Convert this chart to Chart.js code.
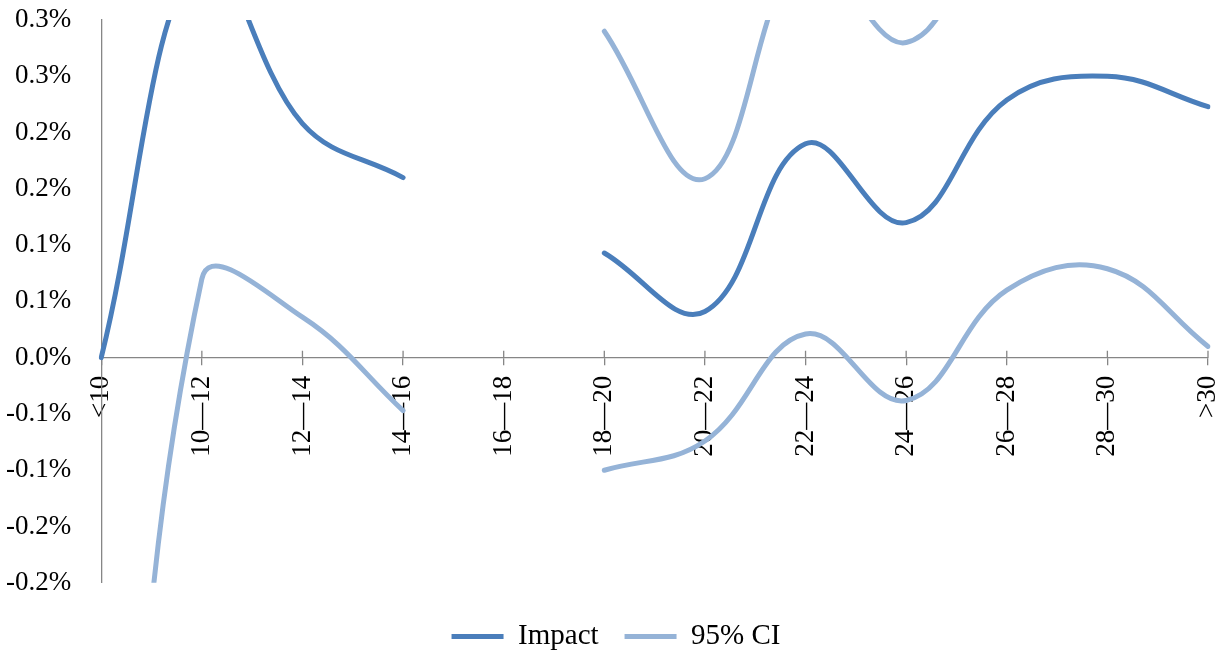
<!DOCTYPE html>
<html>
<head>
<meta charset="utf-8">
<script src="https://cdn.jsdelivr.net/npm/chart.js@4"></script>
<style>
  html, body { margin: 0; padding: 0; background: #fff; }
  #wrap { width: 1225px; height: 656px; }
</style>
</head>
<body>
<div id="wrap"><canvas id="myChart"></canvas></div>
<script>
const categories = ['<10', '10—12', '12—14', '14—16', '16—18', '18—20', '20—22', '22—24', '24—26', '26—28', '28—30', '>30'];

// values in percent (0.25 means 0.25%)
const impact  = [0.000, 0.360, 0.208, 0.160, null, 0.093, 0.041, 0.190, 0.120, 0.229, 0.250, 0.223];
const ciUpper = [0.800, 0.650, 0.380, 0.360, null, 0.290, 0.159, 0.360, 0.280, 0.400, 0.420, 0.440];
const ciLower = [-0.800, 0.070, 0.036, -0.047, null, -0.100, -0.074, 0.021, -0.038, 0.060, 0.079, 0.010];

const yTickLabels = ['-0.2%', '-0.2%', '-0.1%', '-0.1%', '0.0%', '0.1%', '0.1%', '0.2%', '0.2%', '0.3%', '0.3%'];

const impactColor = '#4a7ebb';
const ciColor = '#95b3d7';
const axisColor = '#868686';
const fontFamily = "'Liberation Serif', 'Times New Roman', serif";
const font = { family: fontFamily, size: 27 };

// tick marks on the x axis cross the line, chart.js only draws the lower half
const crossTicks = {
    id: 'crossTicks',
    afterDraw(chart) {
        const x = chart.scales.x;
        const y0 = chart.scales.y.getPixelForValue(0);
        const ctx = chart.ctx;
        ctx.save();
        ctx.strokeStyle = axisColor;
        ctx.lineWidth = 1.3;
        ctx.beginPath();
        for (let i = 1; i < categories.length; i++) {
            const px = x.getPixelForTick(i);
            ctx.moveTo(px, y0 - 7);
            ctx.lineTo(px, y0);
        }
        ctx.stroke();
        ctx.restore();
    }
};

const lineStyle = color => ({
    borderColor: color,
    backgroundColor: color,
    borderWidth: 5,
    borderCapStyle: 'round',
    pointRadius: 0,
    pointHoverRadius: 0,
    tension: 0.4,
    fill: false,
    spanGaps: false,
});

const dataChart = {
    labels: categories,
    datasets: [
        { label: 'Impact', data: impact, ...lineStyle(impactColor) },
        { label: '95% CI', data: ciUpper, ...lineStyle(ciColor) },
        { label: '95% CI lower', data: ciLower, ...lineStyle(ciColor) },
    ],
};

const configChart = {
    type: 'line',
    data: dataChart,
    plugins: [crossTicks],
    options: {
        responsive: true,
        maintainAspectRatio: false,
        animation: false,
        devicePixelRatio: 1,
        layout: { padding: { left: 6, right: -1, top: 20, bottom: -5 } },
        plugins: {
            tooltip: { enabled: false },
            legend: {
                position: 'bottom',
                title: { display: true, text: ' ', font: { size: 1 }, padding: { top: 0, bottom: 12 } },
                labels: {
                    font: { family: fontFamily, size: 29 },
                    color: '#000',
                    usePointStyle: true,
                    pointStyle: 'line',
                    pointStyleWidth: 52,
                    padding: 26,
                    filter: item => item.datasetIndex < 2,
                },
            },
        },
        scales: {
            x: {
                position: { y: 0 },
                offset: false,
                grid: { drawOnChartArea: false, color: axisColor, lineWidth: 1.3, tickLength: 7 },
                border: { color: axisColor, width: 1.3 },
                ticks: {
                    font: font,
                    color: '#000',
                    minRotation: 90,
                    maxRotation: 90,
                    autoSkip: false,
                    padding: 11,
                },
                afterFit(scale) {
                    // labels sit inside the plot, so the axis takes no room
                    scale.height = 0;
                    scale.paddingLeft = 0;
                    scale.paddingRight = 17;
                },
            },
            y: {
                min: -0.2,
                max: 0.3,
                grid: { display: false, drawTicks: false },
                border: { display: true, color: axisColor, width: 1.3 },
                ticks: {
                    stepSize: 0.05,
                    font: font,
                    color: '#000',
                    padding: 30,
                    callback: (value, index) => yTickLabels[index],
                },
                afterFit(scale) {
                    // chart.js adds the tick padding to width and to top/bottom room
                    scale.width -= 30;
                    scale.paddingTop = 16;
                    scale.paddingBottom = 16;
                },
            },
        },
    },
};

const myChart = new Chart(document.getElementById('myChart'), configChart);
</script>
</body>
</html>
